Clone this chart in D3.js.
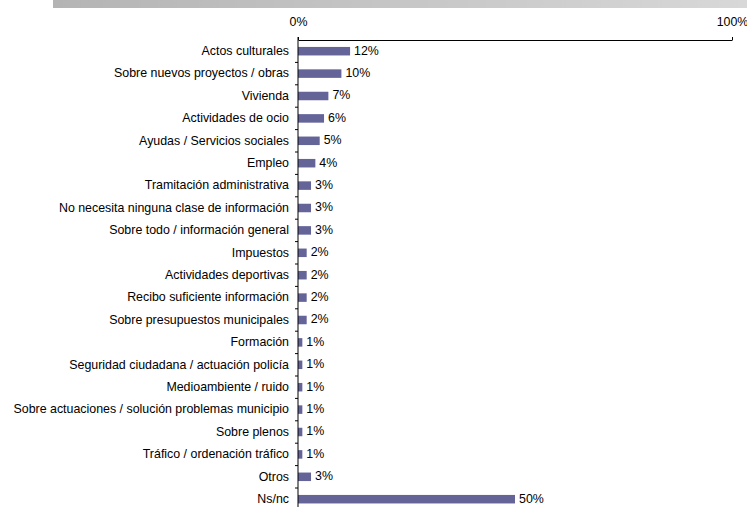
<!DOCTYPE html>
<html><head><meta charset="utf-8">
<script src="https://cdn.jsdelivr.net/npm/d3@7"></script>
<style>body{margin:0;background:#fff}svg{display:block}text{font-family:"Liberation Sans",Arial,sans-serif}</style>
</head><body>
<script>
const categories = ["Actos culturales","Sobre nuevos proyectos / obras","Vivienda","Actividades de ocio","Ayudas / Servicios sociales","Empleo","Tramitación administrativa","No necesita ninguna clase de información","Sobre todo / información general","Impuestos","Actividades deportivas","Recibo suficiente información","Sobre presupuestos municipales","Formación","Seguridad ciudadana / actuación policía","Medioambiente / ruido","Sobre actuaciones / solución problemas municipio","Sobre plenos","Tráfico / ordenación tráfico","Otros","Ns/nc"];
const values = [12,10,7,6,5,4,3,3,3,2,2,2,2,1,1,1,1,1,1,3,50];
const axisTicks = [0,100];

const W=747,H=507,FS=12.4;
const svg=d3.select("body").append("svg").attr("width",W).attr("height",H);
const defs=svg.append("defs");
const g=defs.append("linearGradient").attr("id","hdr");
g.append("stop").attr("offset","0%").attr("stop-color","#b4b4b4");
g.append("stop").attr("offset","100%").attr("stop-color","#d8d8d8");
svg.append("rect").attr("x",53).attr("y",0).attr("width",W-53).attr("height",8).attr("fill","url(#hdr)");

const x=d3.scaleLinear().domain([0,100]).range([298,732]);
const y=d3.scaleBand().domain(categories).range([40,40+22.4*categories.length]).paddingInner(0.62).paddingOuter(0.31);

svg.selectAll("rect.bar").data(categories).enter().append("rect").attr("class","bar")
 .attr("x",x(0)).attr("y",d=>y(d)).attr("height",y.bandwidth())
 .attr("width",(d,i)=>x(values[i])-x(0)).attr("fill","#646499");

svg.selectAll("text.val").data(categories).enter().append("text").attr("class","val")
 .attr("x",(d,i)=>x(values[i])+4).attr("y",d=>y(d)+y.bandwidth()/2-1).attr("dy","0.35em")
 .attr("font-size",FS).attr("fill","#000").text((d,i)=>values[i]+"%");

const ta=svg.append("g").attr("transform","translate(0,40)")
 .call(d3.axisTop(x).tickValues(axisTicks).tickSize(3).tickSizeOuter(0).tickFormat(d=>d+"%"));
ta.select(".domain").attr("stroke","#000");
ta.selectAll("text").attr("font-size",FS).attr("font-family","Liberation Sans, Arial, sans-serif").attr("y",-14).attr("fill","#000");

const la=svg.append("g").attr("transform","translate(298,0)")
 .call(d3.axisLeft(y).tickSize(0).tickSizeOuter(0));
la.select(".domain").remove();
la.selectAll("text").attr("font-size",FS).attr("font-family","Liberation Sans, Arial, sans-serif").attr("x",-9).attr("dy","0.3em").attr("fill","#000");
const step=y.step();
svg.append("line").attr("x1",298).attr("x2",298).attr("y1",37).attr("y2",H).attr("stroke","#000");
const bounds=d3.range(1,categories.length+1).map(i=>40+i*step);
svg.selectAll("line.tk").data(bounds).enter().append("line").attr("class","tk")
 .attr("x1",295).attr("x2",298).attr("y1",d=>d).attr("y2",d=>d).attr("stroke","#000");
</script>
</body></html>
